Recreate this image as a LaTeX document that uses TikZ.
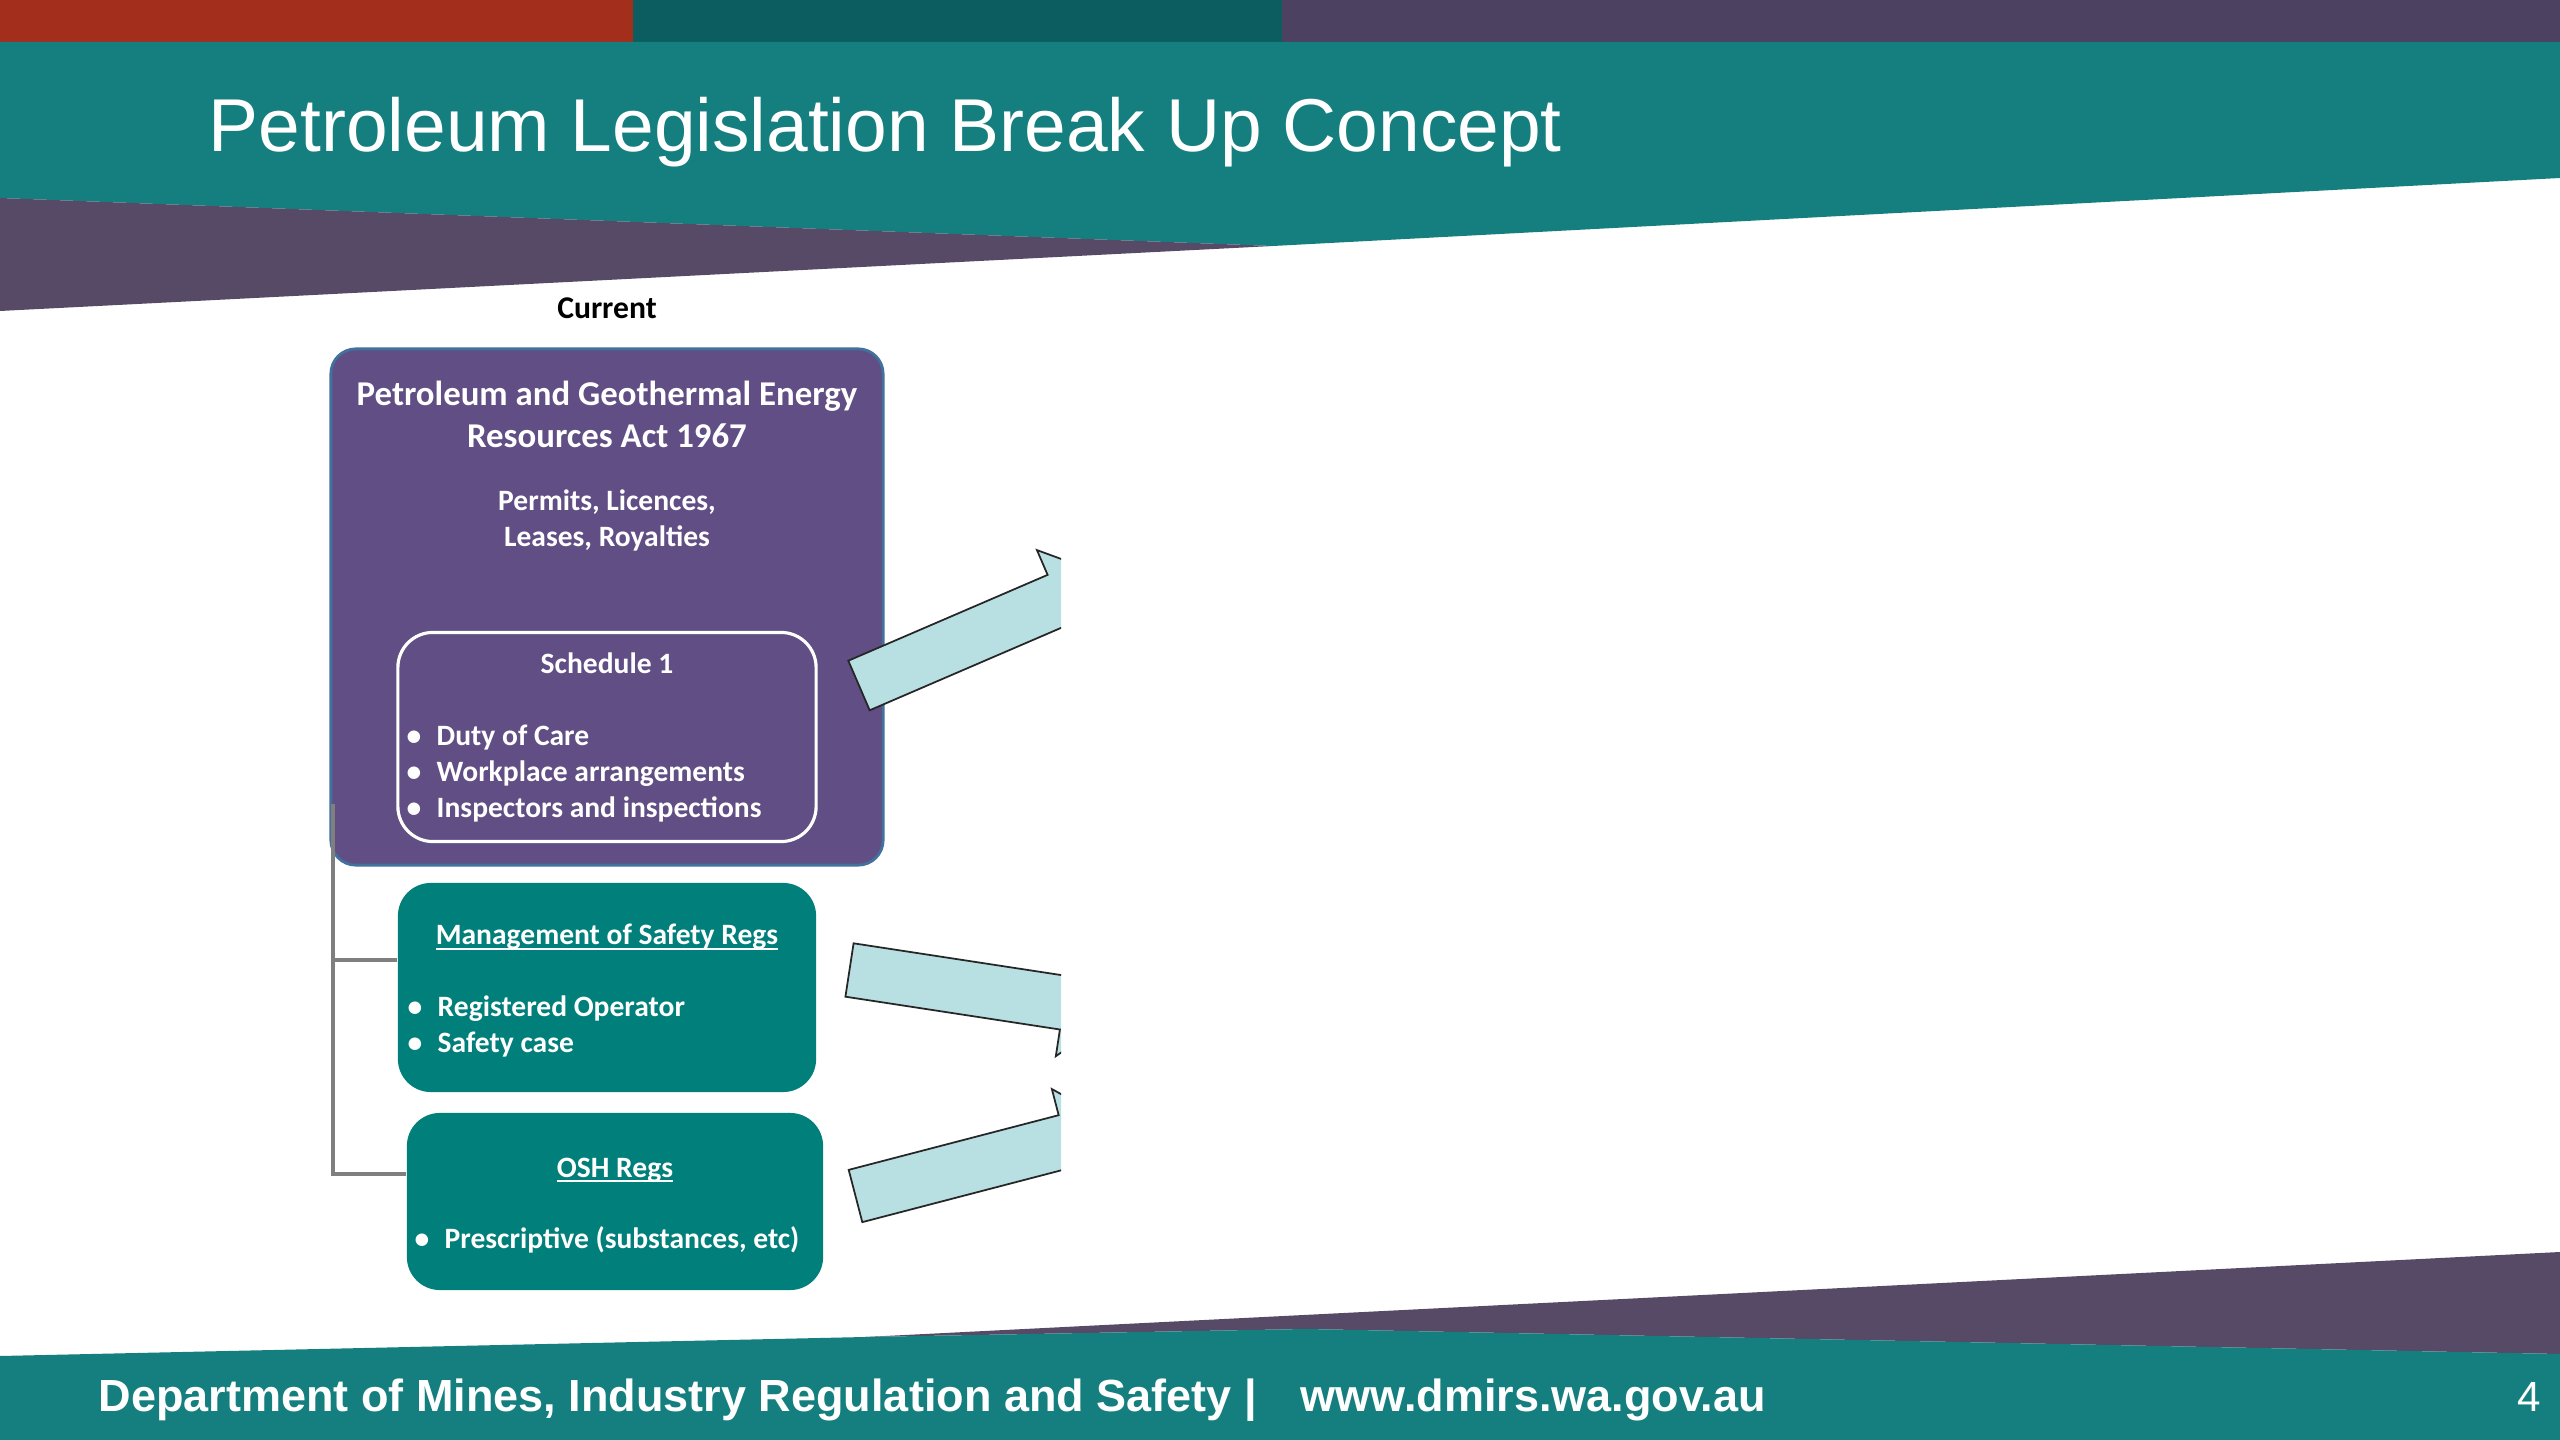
\documentclass[tikz,border=0pt]{standalone}
\usepackage{fontspec}
\setmainfont{Carlito}
\newfontfamily\arialf{Liberation Sans}
\definecolor{topred}{HTML}{A42E1C}
\definecolor{topteal}{HTML}{0B5D5F}
\definecolor{toppurple}{HTML}{4C4160}
\definecolor{bannerteal}{HTML}{147F7E}
\definecolor{bandpurple}{HTML}{574A66}
\definecolor{actpurple}{HTML}{604E84}
\definecolor{actedge}{HTML}{41719C}
\definecolor{boxteal}{HTML}{017F7B}
\definecolor{arrowfill}{HTML}{B8E0E3}
\definecolor{linkgray}{HTML}{7F7F7F}
\newcommand\myul[1]{\setbox0=\hbox{#1}\rlap{\rule[-0.17em]{\wd0}{0.065em}}\box0}
\newcommand\bul{\makebox[0.3cm][l]{\textbullet}}
\begin{document}
\begin{tikzpicture}[x=0.01cm,y=-0.01cm,
  lbl/.style={inner sep=0pt, text=white, anchor=base west, font=\bfseries\fontsize{8.4}{10}\selectfont},
  lblc/.style={lbl, anchor=base},
  boxp/.style={draw=actedge, line width=0.8pt, fill=actpurple, rounded corners=0.25cm, inner sep=0pt},
  boxs/.style={draw=white, line width=0.9pt, rounded corners=0.35cm, inner sep=0pt},
  boxt/.style={fill=boxteal, rounded corners=0.33cm, inner sep=0pt},
  link/.style={draw=linkgray, line width=0.9pt},
  barrow/.style={fill=arrowfill, draw=black!85, line width=0.5pt, line join=miter}
]
\useasboundingbox (0,0) rectangle (2560,1440);
\fill[white] (0,0) rectangle (2560,1440);
% header
\fill[topred] (0,0) rectangle (633,43);
\fill[topteal] (633,0) rectangle (1282,43);
\fill[toppurple] (1282,0) rectangle (2560,43);
\fill[bannerteal] (0,42) -- (2560,42) -- (2560,178) -- (1273,246) -- (0,198) -- cycle;
\fill[bandpurple] (0,198) -- (1273,246) -- (0,311) -- cycle;
\node[anchor=base west, inner sep=0pt, text=white, font=\arialf\fontsize{21.3}{25}\selectfont] (title) at (208,152) {Petroleum Legislation Break Up Concept};
% footer
\fill[bandpurple] (865,1337) -- (2560,1252) -- (2560,1354) -- (1306,1329) -- cycle;
\fill[bannerteal] (0,1356) -- (865,1337) -- (1306,1329) -- (2560,1354) -- (2560,1440) -- (0,1440) -- cycle;
\node[anchor=base west, inner sep=0pt, text=white, font=\arialf\bfseries\fontsize{12.8}{15}\selectfont] (footL) at (98,1411) {Department of Mines, Industry Regulation and Safety |};
\node[anchor=base west, inner sep=0pt, text=white, font=\arialf\bfseries\fontsize{12.8}{15}\selectfont] (footR) at (1300,1411) {www.dmirs.wa.gov.au};
\node[anchor=base, inner sep=0pt, text=white, font=\arialf\fontsize{12}{14}\selectfont] (page) at (2529,1411) {4};
% diagram
\node[anchor=base, inner sep=0pt, font=\bfseries\fontsize{9}{11}\selectfont] (current) at (607,319) {Current};
\node[boxp, minimum width=5.52cm, minimum height=5.16cm] (act) at (607,607) {};
\node[boxs, minimum width=4.18cm, minimum height=2.09cm] (sched) at (607,737) {};
\node[boxt, minimum width=4.18cm, minimum height=2.09cm] (mgmt) at (607,987.5) {};
\node[boxt, minimum width=4.16cm, minimum height=1.77cm] (osh) at (615,1201.5) {};
% connectors
\coordinate (cTop) at (333,804);
\coordinate (j1) at (333,960);
\coordinate (j2) at (333,1174);
\draw[link] (cTop) -- (j2) -- (j2 -| osh.west);
\draw[link] (j1) -- (j1 -| mgmt.west);
% texts in act
\node[lblc, font=\bfseries\fontsize{9.9}{12}\selectfont] (act1) at (607,406) {Petroleum and Geothermal Energy};
\node[lblc, font=\bfseries\fontsize{9.9}{12}\selectfont] (act2) at (607,448) {Resources Act 1967};
\node[lblc] (perm1) at (607,511) {Permits, Licences,};
\node[lblc] (perm2) at (607,547) {Leases, Royalties};
\node[lblc] (schT) at (607,674) {Schedule 1};
\node[lbl] (sch1) at (406,746) {\bul Duty of Care};
\node[lbl] (sch2) at (406,782) {\bul Workplace arrangements};
\node[lbl] (sch3) at (406,818) {\bul Inspectors and inspections};
\node[lblc] (mgT) at (607,945) {\myul{Management of Safety Regs}};
\node[lbl] (mg1) at (407,1016) {\bul Registered Operator};
\node[lbl] (mg2) at (407,1052) {\bul Safety case};
\node[lblc] (osT) at (615,1177) {\myul{OSH Regs}};
\node[lbl] (os1) at (414,1248) {\bul Prescriptive (substances, etc)};
% block arrows, cut off at the right
\begin{scope}
\clip (0,0) rectangle (1061,1440);
\foreach \cx/\cy/\ang [count=\i] in {859/685.5/23.3, 849.5/970/-8.7, 855.5/1196/14.6} {
  \draw[barrow, shift={(\cx,\cy)}, rotate=\ang] (0,-27) -- (217,-27) -- (217,-54) -- (274,0) -- (217,54) -- (217,27) -- (0,27) -- cycle;
}
\end{scope}
\end{tikzpicture}
\end{document}
